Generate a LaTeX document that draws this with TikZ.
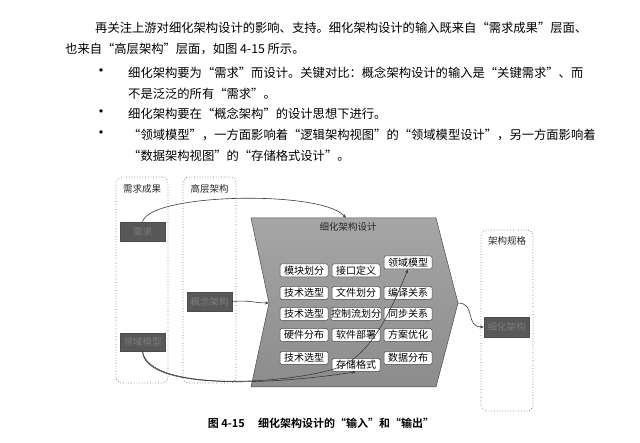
\documentclass[tikz,border=0pt]{standalone}
\usepackage{fontspec}
\setmainfont{Noto Sans CJK SC}[BoldFont={Noto Sans CJK SC Bold}]
\usetikzlibrary{arrows.meta}
\definecolor{darkbox}{HTML}{585858}
\definecolor{darktext}{HTML}{7C7C7C}
\definecolor{chevtop}{HTML}{A6A6A6}
\definecolor{chevbot}{HTML}{8C8C8C}
\definecolor{lineclr}{HTML}{3A3A3A}
\begin{document}
\begin{tikzpicture}[x=1pt,y=-1pt,
  bodytext/.style={anchor=west,inner sep=0pt,font=\fontsize{12.3}{14}\selectfont},
  bullet/.style={inner sep=0pt,font=\fontsize{16}{16}\selectfont},
  group/.style={draw=black!55,dotted,line width=0.7pt,rounded corners=6pt,inner sep=0pt},
  grouptitle/.style={inner sep=0pt,font=\fontsize{9.5}{10}\selectfont,text=black!85},
  darkbox/.style={fill=darkbox,draw=black!70,line width=0.4pt,text=darktext,inner sep=0pt,
     minimum width=45pt,minimum height=19pt,font=\fontsize{9.5}{10}\selectfont},
  sbox/.style={fill=white,draw=black!70,line width=0.5pt,rounded corners=1.5pt,inner sep=0pt,
     minimum width=48pt,minimum height=13pt,font=\fontsize{10}{10}\selectfont},
  conn/.style={draw=lineclr,line width=0.6pt,-{Stealth[length=4pt,width=3pt]}}
]
\useasboundingbox (0,0) rectangle (640,443);

% ---- body text ----
\node[bodytext] (t1) at (95,28) {再关注上游对细化架构设计的影响、支持。细化架构设计的输入既来自“需求成果”层面、};
\node[bodytext] (t2) at (65,49) {也来自“高层架构”层面，如图 4-15 所示。};
\node[bullet] (d1) at (101,73) {•};
\node[bodytext] (t3) at (128,73) {细化架构要为“需求”而设计。关键对比：概念架构设计的输入是“关键需求”、而};
\node[bodytext] (t4) at (128,94) {不是泛泛的所有“需求”。};
\node[bullet] (d2) at (101,114) {•};
\node[bodytext] (t5) at (128,114) {细化架构要在“概念架构”的设计思想下进行。};
\node[bullet] (d3) at (101,135) {•};
\node[bodytext] (t6) at (128,135) {“领域模型”，一方面影响着“逻辑架构视图”的“领域模型设计”，另一方面影响着};
\node[bodytext] (t7) at (128,156) {“数据架构视图”的“存储格式设计”。};

% ---- groups ----
\node[group,minimum width=52pt,minimum height=206pt] (g1) at (142,280) {};
\node[grouptitle] (g1t) at (142,189) {需求成果};
\node[group,minimum width=53pt,minimum height=206pt] (g2) at (209.5,280) {};
\node[grouptitle] (g2t) at (209.5,189) {高层架构};
\node[group,minimum width=52pt,minimum height=181pt] (g3) at (507,320.5) {};
\node[grouptitle] (g3t) at (507,241) {架构规格};

% ---- chevron ----
\coordinate (ctop) at (346,218);
\coordinate (notch) at (269,303);
\coordinate (tip) at (458,303);
\draw[draw=black!70,line width=0.5pt,top color=chevtop,bottom color=chevbot]
  (251,218) -- (436,218) -- (tip) -- (436,387) -- (251,387) -- (notch) -- cycle;
\node[grouptitle] (ct) at (348,227) {细化架构设计};

% ---- dark boxes ----
\node[darkbox] (xq) at (142.5,231.5) {需求};
\node[darkbox,minimum height=18pt] (lm) at (142.5,342) {领域模型};
\node[darkbox] (gn) at (209.5,301.5) {概念架构};
\node[darkbox,minimum height=20pt] (gx) at (506.5,327) {细化架构};

% ---- small boxes ----
\node[sbox] (b11) at (304,270.5) {模块划分};
\node[sbox] (b12) at (356,270.5) {接口定义};
\node[sbox] (b13) at (408,262.5) {领域模型};
\node[sbox] (b21) at (304,293) {技术选型};
\node[sbox] (b22) at (356,293) {文件划分};
\node[sbox] (b23) at (408,293) {编译关系};
\node[sbox] (b31) at (304,314) {技术选型};
\node[sbox] (b32) at (356,314) {控制流划分};
\node[sbox] (b33) at (408,314) {同步关系};
\node[sbox] (b41) at (304,335) {硬件分布};
\node[sbox] (b42) at (356,335) {软件部署};
\node[sbox] (b43) at (408,335) {方案优化};
\node[sbox] (b51) at (304,358) {技术选型};
\node[sbox] (b52) at (356,365) {存储格式};
\node[sbox] (b53) at (408,358) {数据分布};

% ---- connectors ----
\draw[conn] (xq.north) .. controls (150,193) and (322,190) .. (ctop);
\draw[conn] (gn.east) .. controls (250,300) and (255,303) .. (notch);
\draw[conn] (lm.south) .. controls (145,392) and (280,384) .. (b52.south);
\draw[conn] (lm.south) .. controls (148,392) and (290,385) .. (340,367)
                       .. controls (375,352) and (395,300) .. (b13.south);
\draw[conn] (tip) .. controls (476,303) and (465,327) .. (gx.west);

% ---- caption ----
\node[inner sep=0pt,font=\fontsize{11}{12}\selectfont\bfseries] (cap) at (321,423) {图 4-15\hspace{1.2em}细化架构设计的“输入”和“输出”};
\end{tikzpicture}
\end{document}
